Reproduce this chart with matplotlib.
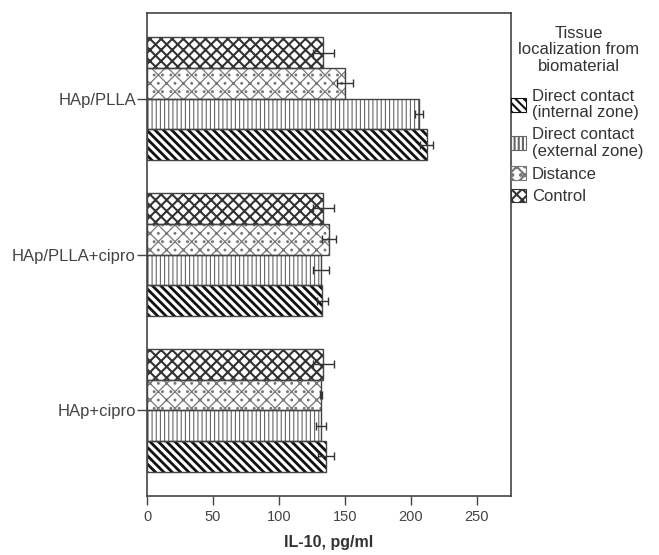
import matplotlib
matplotlib.use("Agg")
import matplotlib.pyplot as plt
import numpy as np
from matplotlib.patches import Patch

plt.rcParams['font.family'] = ['Liberation Sans', 'DejaVu Sans']

categories = ["HAp/PLLA", "HAp/PLLA+cipro", "HAp+cipro"]
series_names = ["Direct contact\n(internal zone)", "Direct contact\n(external zone)", "Distance", "Control"]
internal = [212, 133, 136]
external = [206, 132, 132]
distance = [150, 138, 132]
control = [133.5, 133.5, 133.5]
err_internal = [5, 4, 6]
err_external = [3, 6, 4]
err_distance = [6, 5, 1]
err_control = [8, 8, 8]
xticks = [0, 50, 100, 150, 200, 250]
legend_title = "Tissue\nlocalization from\nbiomaterial"

values = [internal, external, distance, control]
errors = [err_internal, err_external, err_distance, err_control]
hatches = ['\\' * 4, '||||', 'xx..', 'xxx']
hatch_colors = ['#111111', '#666666', '#777777', '#333333']
hatch_lw = [2.0, 0.8, 0.9, 1.5]
offsets = [1.5, 0.5, -0.5, -1.5]
h = 0.197

fig = plt.figure(figsize=(6.59, 5.55), dpi=100)
ax = fig.add_axes([147/659, 1-496/555, (511-147)/659, (496-13)/555])

pos = np.arange(len(categories))
handles = []
for i in range(4):
    plt.rcParams['hatch.linewidth'] = hatch_lw[i]
    y = pos + offsets[i]*h
    ax.barh(y, values[i], height=h, color='white', edgecolor=hatch_colors[i],
            hatch=hatches[i], linewidth=0.0, zorder=2)
    ax.barh(y, values[i], height=h, color='none', edgecolor='#444444', linewidth=1.0, zorder=3)
    ax.errorbar(values[i], y, xerr=errors[i], fmt='none', ecolor='#333333',
                elinewidth=1.0, capsize=3, capthick=1.0, zorder=4)
    handles.append(Patch(facecolor='white', edgecolor=hatch_colors[i], hatch=hatches[i], linewidth=0.8))

ax.set_ylim(2.55, -0.55)
ax.set_xlim(0, 276)
ax.set_yticks(pos)
ax.set_yticklabels(categories)
ax.set_xticks(xticks)
ax.tick_params(axis='x', colors='#444444', labelsize=10.5, length=6.5, width=1, labelcolor='#444444')
ax.tick_params(axis='y', colors='#444444', labelsize=12, length=7, width=1, pad=1, labelcolor='#444444')
for s in ax.spines.values():
    s.set_color('#444444')
    s.set_linewidth(1.2)
ax.set_xlabel("IL-10, pg/ml", fontsize=11.5, fontweight='bold', color='#333333', labelpad=8)

fig.text(579/659, 1-50/555, legend_title, ha='center', va='center', fontsize=12,
         color='#333333', linespacing=1.12, multialignment='center')

leg = fig.legend(handles=handles, labels=series_names,
                 loc='upper left', bbox_to_anchor=(511/659, 1-89/555), frameon=False,
                 fontsize=12, handlelength=0.9, handleheight=0.9,
                 handletextpad=0.35, labelspacing=0.42, borderpad=0, borderaxespad=0)
for t in leg.get_texts():
    t.set_color('#333333')
    t.set_linespacing(1.12)

fig.savefig("out.png", dpi=100)
